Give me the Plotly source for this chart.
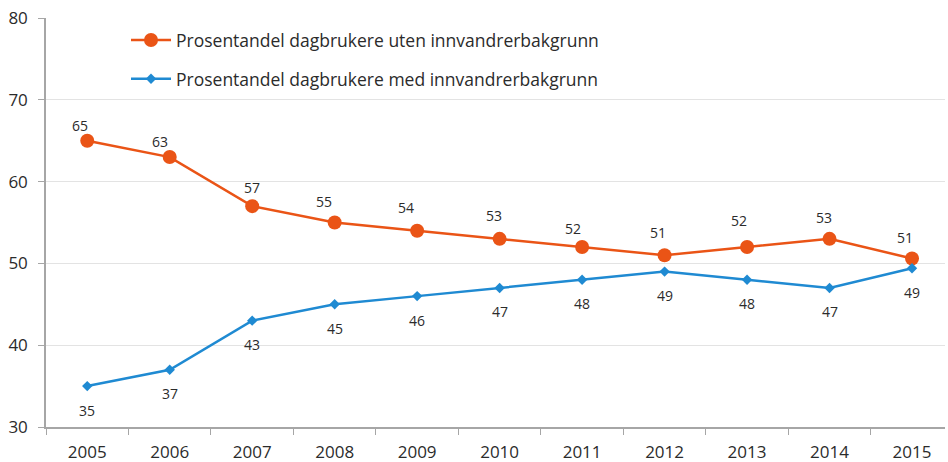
import plotly.graph_objects as go

years = [str(y) for y in range(2005, 2016)]
uten = [65, 63, 57, 55, 54, 53, 52, 51, 52, 53, 50.6]
med = [35, 37, 43, 45, 46, 47, 48, 49, 48, 47, 49.4]
name_uten = "Prosentandel dagbrukere uten innvandrerbakgrunn"
name_med = "Prosentandel dagbrukere med innvandrerbakgrunn"

# label placement offsets (pixels) as placed in the original chart
uten_dx = [-7, -10, 0, -11, -11, -6, -9, -7, -8, -6, -7]
uten_dy = [15, 16, 19, 21, 23, 23, 19, 23, 27, 21, 21]
med_dy = -24

FONT = "Open Sans, Lato, Carlito, Calibri, sans-serif"
ORANGE = "#EA5416"
BLUE = "#1F8AD2"
TXT = "#2B2B2B"

fig = go.Figure()
fig.add_trace(go.Scatter(
    x=years, y=uten, name=name_uten, mode="lines+markers",
    line=dict(color=ORANGE, width=2.5),
    marker=dict(color=ORANGE, size=14, symbol="circle"),
    legendgroup="a",
))
fig.add_trace(go.Scatter(
    x=years, y=med, name=name_med, mode="lines+markers",
    line=dict(color=BLUE, width=2.5),
    marker=dict(color=BLUE, size=8, symbol="diamond"),
    legendgroup="b",
))

annotations = []
for i, (v, dx, dy) in enumerate(zip(uten, uten_dx, uten_dy)):
    annotations.append(dict(x=i, y=v, xref="x", yref="y", text=f"{v:.0f}",
                            showarrow=False, xshift=dx, yshift=dy,
                            font=dict(size=14, color=TXT, family=FONT)))
for i, v in enumerate(med):
    annotations.append(dict(x=i, y=v, xref="x", yref="y", text=f"{v:.0f}",
                            showarrow=False, xshift=0, yshift=med_dy,
                            font=dict(size=14, color=TXT, family=FONT)))

fig.update_layout(
    width=948, height=462,
    margin=dict(l=46, r=3, t=18, b=35),
    paper_bgcolor="white", plot_bgcolor="white",
    font=dict(family=FONT, color=TXT),
    showlegend=True,
    annotations=annotations,
    legend=dict(
        x=0.089, y=0.99, xanchor="left", yanchor="top",
        bgcolor="rgba(0,0,0,0)", font=dict(size=17.5, family=FONT, color=TXT),
        tracegroupgap=13, itemwidth=40,
    ),
    xaxis=dict(
        type="category", range=[-0.5, 10.4], automargin=False,
        tickson="boundaries", ticks="outside", ticklen=6, tickcolor="#A6A6A6",
        showline=True, linecolor="#A6A6A6", linewidth=1.5, showgrid=False,
        ticklabelstandoff=9,
        tickfont=dict(size=17, family=FONT, color=TXT),
    ),
    yaxis=dict(
        range=[30, 80], dtick=10, ticks="outside", ticklen=6, tickcolor="#A6A6A6",
        showline=True, linecolor="#A6A6A6", linewidth=1.5, automargin=False,
        showgrid=True, gridcolor="#E3E3E3", gridwidth=1, zeroline=False,
        ticklabelstandoff=7,
        tickfont=dict(size=17, family=FONT, color=TXT),
    ),
)

fig.write_html("out.html", config={"displayModeBar": False},
               post_script="document.body.style.margin='0';")
